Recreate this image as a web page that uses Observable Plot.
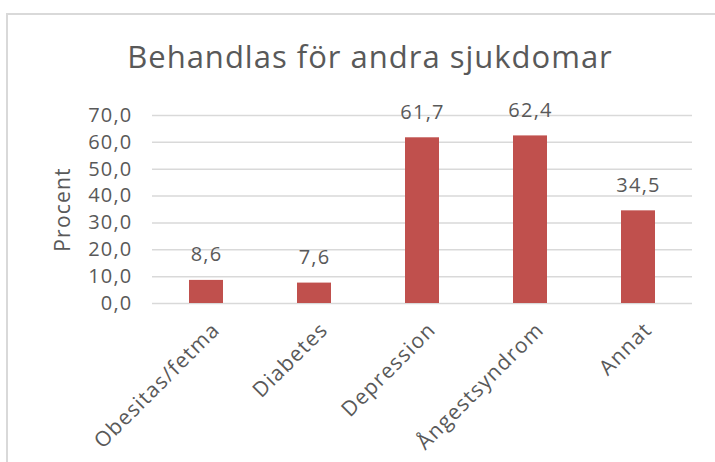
<!DOCTYPE html>
<html>
<head>
<meta charset="utf-8">
<script src="https://cdn.jsdelivr.net/npm/d3@7"></script>
<script src="https://cdn.jsdelivr.net/npm/@observablehq/plot@0.6"></script>
<style>
  html, body { margin: 0; padding: 0; background: #fff; width: 715px; height: 462px; overflow: hidden; }
  body { position: relative; font-family: "Open Sans", sans-serif; }
  #frame { position: absolute; left: 6px; top: 13px; width: 800px; height: 600px;
           border-left: 2px solid #d9d9d9; border-top: 2px solid #d9d9d9; }
  #title { position: absolute; left: 0; top: 41px; width: 740px; text-align: center; letter-spacing: 1px;
           font-size: 31px; line-height: 31px; color: #595959; font-family: "Open Sans", sans-serif; }
  #chart { position: absolute; left: 0; top: 90px; }
</style>
</head>
<body>
<div id="frame"></div>
<div id="title">Behandlas för andra sjukdomar</div>
<div id="chart"></div>
<script>
const categories = ["Obesitas/fetma", "Diabetes", "Depression", "Ångestsyndrom", "Annat"];
const values = [8.6, 7.6, 61.7, 62.4, 34.5];
const yTicks = [0, 10, 20, 30, 40, 50, 60, 70];
const yLabel = "Procent";

const data = categories.map((c, i) => ({cat: c, val: values[i]}));
const fmt = d => d.toFixed(1).replace(".", ",");
const textColor = "#595959";

const chart = Plot.plot({
  width: 715,
  height: 372,
  marginLeft: 152,
  marginRight: 23,
  marginTop: 25,
  marginBottom: 159,
  style: {fontFamily: "'Open Sans', sans-serif", color: textColor, background: "transparent", letterSpacing: "1.2px"},
  x: {domain: categories, paddingInner: 0.685, paddingOuter: 0.3425, axis: null},
  y: {domain: [0, 70], axis: null},
  marks: [
    Plot.ruleY(yTicks, {stroke: "#d9d9d9", strokeWidth: 1.5}),
    Plot.barY(data, {x: "cat", y: "val", fill: "#C0504D"}),
    Plot.text(data, {x: "cat", y: "val", text: d => fmt(d.val), dy: -19, lineAnchor: "bottom",
                     fontSize: 20, fill: textColor}),
    Plot.text(yTicks, {y: d => d, text: d => fmt(d), frameAnchor: "left", dx: -20, textAnchor: "end",
                       fontSize: 20, fill: textColor}),
    Plot.text([yLabel], {frameAnchor: "left", rotate: -90, dx: -89, textAnchor: "middle",
                         fontSize: 21, fill: textColor}),
    Plot.text(categories, {x: d => d, frameAnchor: "bottom", rotate: -45, textAnchor: "end",
                           lineAnchor: "top", dx: 4, dy: 17, fontSize: 21, fill: textColor})
  ]
});
document.getElementById("chart").appendChild(chart);
</script>
</body>
</html>
